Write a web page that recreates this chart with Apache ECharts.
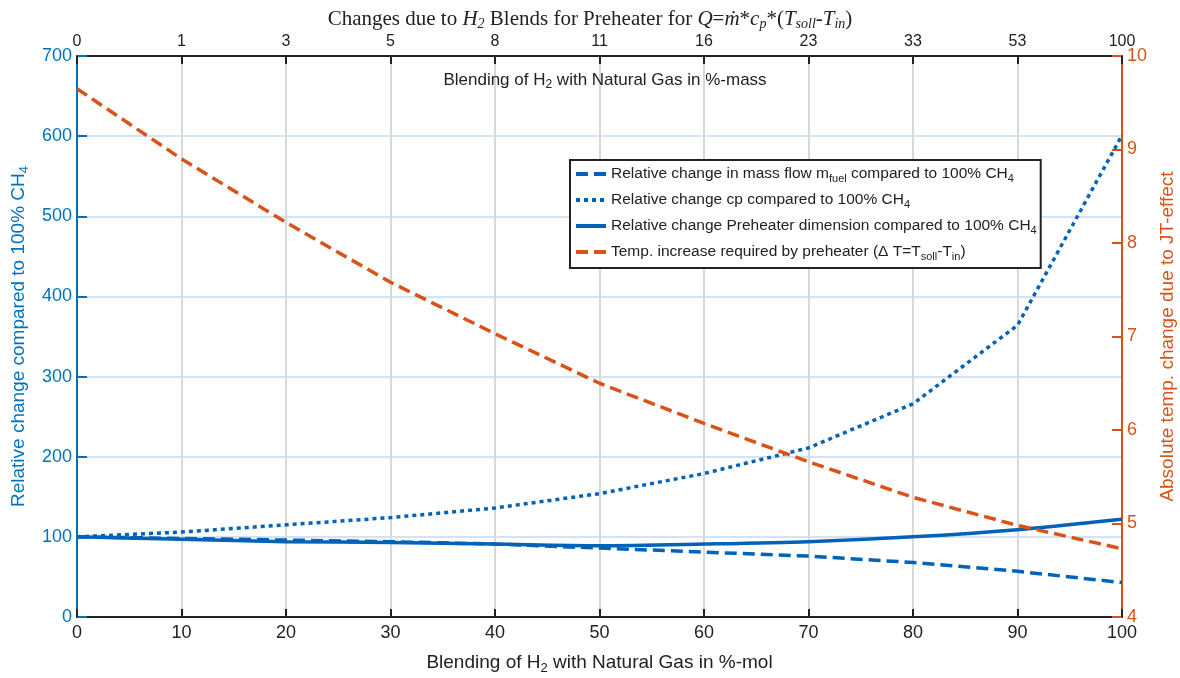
<!DOCTYPE html>
<html><head><meta charset="utf-8">
<script src="https://cdn.jsdelivr.net/npm/echarts@6/dist/echarts.min.js"></script>
<style>html,body{margin:0;padding:0;background:#fff}#c{width:1180px;height:678px}</style>
</head><body><div id="c"></div>
<script>
// Data
const molPct = [0,10,20,30,40,50,60,70,80,90,100];
const massPctLabels = ['0','1','3','5','8','11','16','23','33','53','100'];
const massFlow = [100,98,96,94,91,86,81,76,68,57,43];
const cpChange = [100,106,115,124,136,154,179,211,266,364,601];
const preheater = [100,97,94,93,91,89,91,94,100,109,122];
const deltaT = [9.65,8.90,8.22,7.58,7.03,6.50,6.07,5.66,5.28,4.98,4.73];
const names = ['massflow','cp','preheater','deltaT'];
const legendText = {
  massflow: 'Relative change in mass flow m{sub|fuel} compared to 100% CH{sub|4}',
  cp: 'Relative change cp compared to 100% CH{sub|4}',
  preheater: 'Relative change Preheater dimension compared to 100% CH{sub|4}',
  deltaT: 'Temp. increase required by preheater (Δ T=T{sub|soll}-T{sub|in})'
};

const BLUE = '#0062B8', AXBLUE = '#0072BD', ORANGE = '#D95319';
const FONT = 'Liberation Sans, Arial, sans-serif';
const pairs = arr => molPct.map((x,i)=>[x,arr[i]]);

const chart = echarts.init(document.getElementById('c'));
chart.setOption({
  animation: false,
  backgroundColor: '#fff',
  title: [{
    text: 'Changes due to {i|H}{is|2} Blends for Preheater for {i|Q}={i|ṁ}*{i|c}{is|p}*({i|T}{is|soll}-{i|T}{is|in})',
    left: 'center', top: 3,
    textStyle: {fontFamily:'Liberation Serif, DejaVu Serif, serif', fontSize:21, fontWeight:'normal', color:'#222',
      rich: {
        i: {fontFamily:'Liberation Serif, serif', fontStyle:'italic', fontSize:21, color:'#222'},
        is: {fontFamily:'Liberation Serif, serif', fontStyle:'italic', fontSize:14, padding:[9,0,0,0], color:'#222'}
      }}
  },{
    text: 'Blending of H{sub|2} with Natural Gas in %-mass',
    left: 600, textAlign:'center', top: 64,
    textStyle: {fontFamily:FONT, fontSize:17, fontWeight:'normal', color:'#222',
      rich: {sub: {fontFamily:FONT, fontSize:12, padding:[10,0,0,0], color:'#222'}}}
  }],
  grid: {left: 77, right: 58, top: 56, bottom: 61, containLabel: false, outerBoundsMode: 'none'},
  legend: {
    orient: 'vertical', left: 570, top: 160,
    backgroundColor: '#fff', borderColor: '#222', borderWidth: 2,
    padding: [6, 4, 6, 4], itemGap: 8, itemWidth: 30, itemHeight: 14,
    itemStyle: {opacity: 0},
    lineStyle: {width: 4},
    data: names,
    formatter: n => legendText[n],
    textStyle: {fontFamily: FONT, fontSize: 15.5, color:'#222',
      rich: {sub: {fontFamily: FONT, fontSize: 11, padding:[9,0,0,0], color:'#222'}}}
  },
  xAxis: [{
    type: 'value', min: 0, max: 100, interval: 10, position: 'bottom',
    name: 'Blending of H{sub|2} with Natural Gas in %-mol', nameLocation: 'middle', nameGap: 34,
    nameTextStyle: {fontFamily: FONT, fontSize: 19, color:'#222',
      rich: {sub: {fontFamily: FONT, fontSize: 13, padding:[11,0,0,0], color:'#222'}}},
    axisLine: {onZero: false, lineStyle: {color:'#222', width: 2}},
    axisTick: {inside: true, length: 8, lineStyle:{color:'#222', width:2}},
    axisLabel: {fontFamily: FONT, fontSize: 18, color:'#222', margin: 7},
    splitLine: {show: true, lineStyle: {color:'#d8d8d8', width: 2}}
  },{
    type: 'value', min: 0, max: 100, interval: 10, position: 'top',
    axisLine: {onZero: false, lineStyle: {color:'#222', width: 2}},
    axisTick: {inside: true, length: 8, lineStyle:{color:'#222', width:2}},
    axisLabel: {fontFamily: FONT, fontSize: 16, color:'#222', margin: 6,
      formatter: v => massPctLabels[Math.round(v/10)]},
    splitLine: {show: false}
  }],
  yAxis: [{
    type: 'value', min: 0, max: 700, interval: 100, position: 'left',
    name: 'Relative change compared to 100% CH{sub|4}', nameLocation: 'middle', nameGap: 46, nameRotate: 90,
    nameTextStyle: {fontFamily: FONT, fontSize: 19, color: AXBLUE,
      rich: {sub: {fontFamily: FONT, fontSize: 13, padding:[11,0,0,0], color: AXBLUE}}},
    axisLine: {show: true, onZero: false, lineStyle: {color: AXBLUE, width: 2}},
    axisTick: {show: true, inside: true, length: 10, lineStyle:{color: AXBLUE, width:2}},
    axisLabel: {fontFamily: FONT, fontSize: 18, color: AXBLUE, margin: 5},
    splitLine: {show: true, lineStyle: {color:'#d3e3f3', width: 2}}
  },{
    type: 'value', min: 4, max: 10, interval: 1, position: 'right',
    name: 'Absolute temp. change due to JT-effect', nameLocation: 'middle', nameGap: 35, nameRotate: 90,
    nameTextStyle: {fontFamily: FONT, fontSize: 19, color: ORANGE},
    axisLine: {show: true, onZero: false, lineStyle: {color: ORANGE, width: 2}},
    axisTick: {show: true, inside: true, length: 10, lineStyle:{color: ORANGE, width:2}},
    axisLabel: {fontFamily: FONT, fontSize: 18, color: ORANGE, margin: 5},
    splitLine: {show: false}
  }],
  series: [{
    name: 'massflow', type: 'line', xAxisIndex: 0, yAxisIndex: 0, data: pairs(massFlow),
    showSymbol: false, symbol: 'none', color: BLUE,
    lineStyle: {width: 3.5, color: BLUE, type: [12,6]}, z: 3
  },{
    name: 'cp', type: 'line', xAxisIndex: 0, yAxisIndex: 0, data: pairs(cpChange),
    showSymbol: false, symbol: 'none', color: BLUE,
    lineStyle: {width: 3.5, color: BLUE, type: [4,4]}, z: 3
  },{
    name: 'preheater', type: 'line', xAxisIndex: 0, yAxisIndex: 0, data: pairs(preheater),
    showSymbol: false, symbol: 'none', color: BLUE, smooth: 0.3,
    lineStyle: {width: 3.5, color: BLUE, type: 'solid'}, z: 3
  },{
    name: 'deltaT', type: 'line', xAxisIndex: 0, yAxisIndex: 1, data: pairs(deltaT),
    showSymbol: false, symbol: 'none', color: ORANGE,
    lineStyle: {width: 3.5, color: ORANGE, type: [12,6]}, z: 3
  }]
});
</script></body></html>
